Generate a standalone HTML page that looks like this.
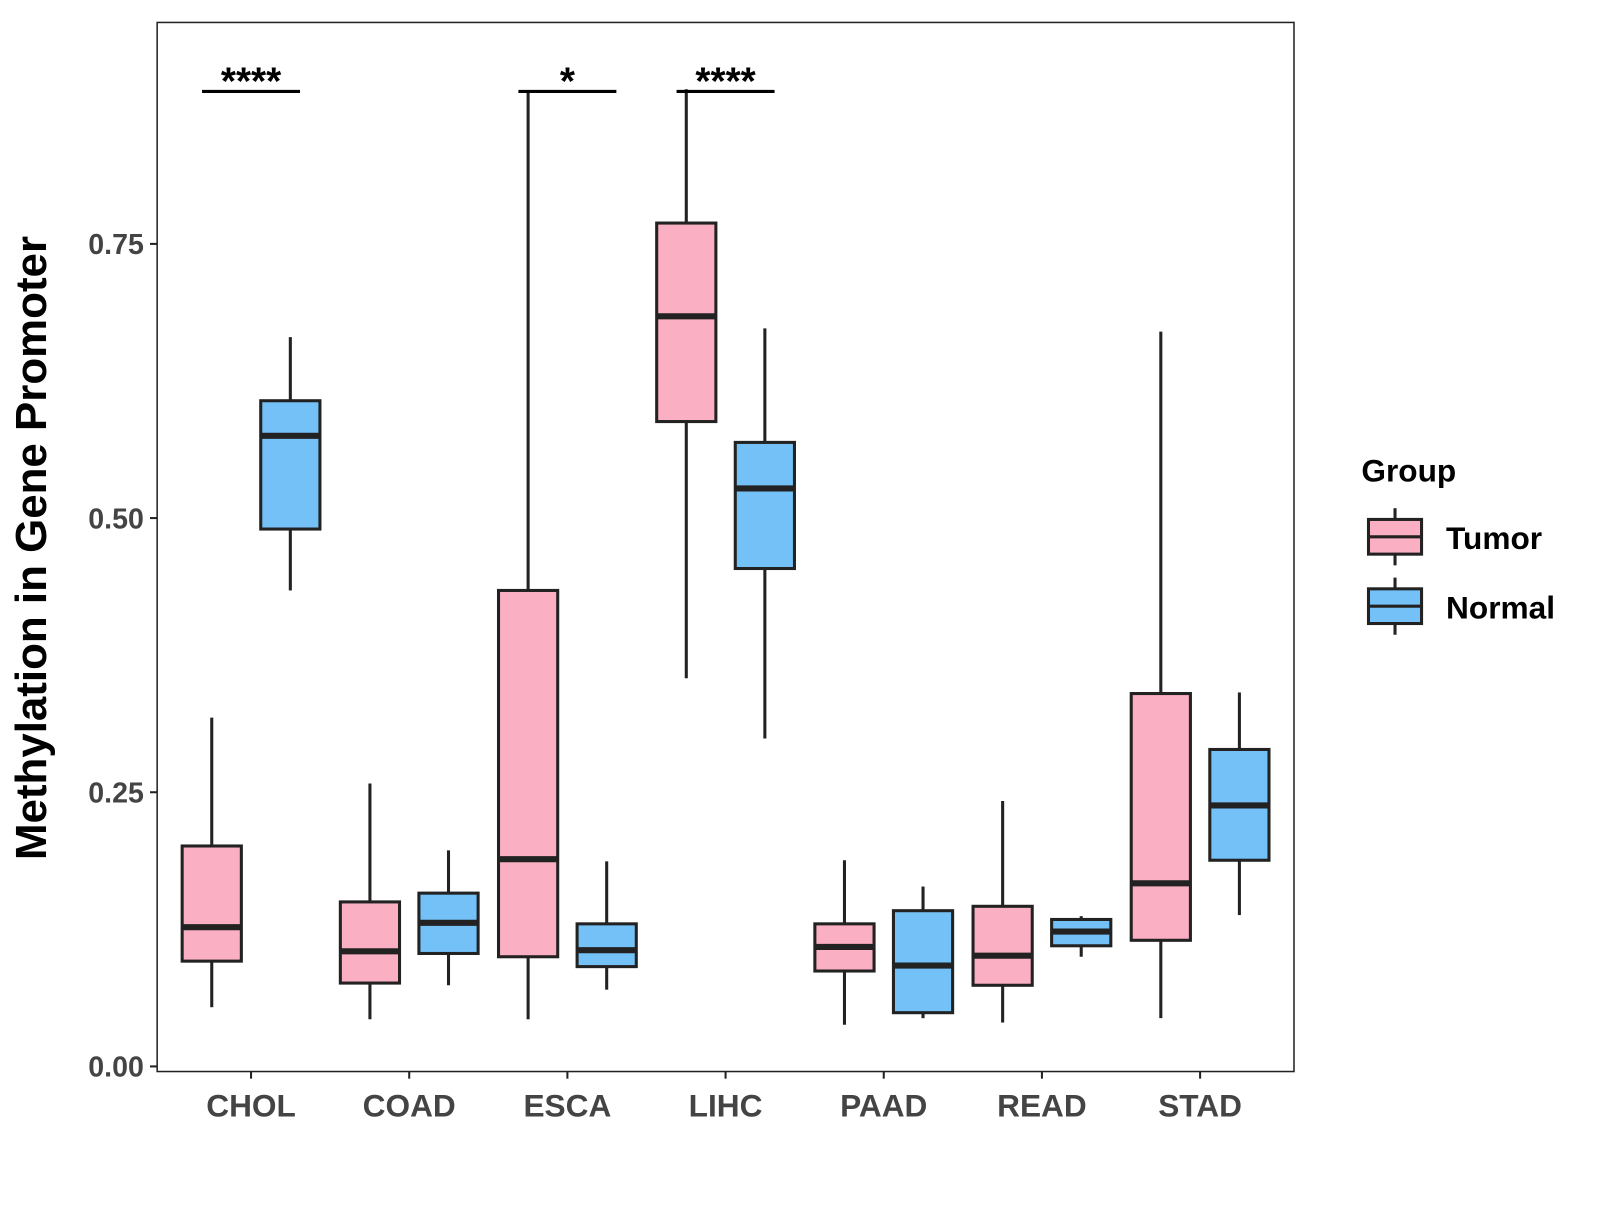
<!DOCTYPE html>
<html><head><meta charset="utf-8"><style>
body{margin:0;background:#fff}
svg text{font-family:"Liberation Sans",Arial,sans-serif;font-weight:bold}
</style></head><body>
<svg id="c" width="1600" height="1200" xmlns="http://www.w3.org/2000/svg">
<rect x="0" y="0" width="1600" height="1200" fill="#fff"/>
<g transform="scale(1.0205)">
<g id="plot"></g>
<rect x="154" y="22" width="1114" height="1028" fill="none" stroke="#222" stroke-width="1.5"/>
<text x="30" y="537" font-size="43" dy="15" text-anchor="middle" transform="rotate(-90 30 537)">Methylation in Gene Promoter</text>
<g>
<text x="1334" y="472" font-size="31">Group</text>
<g>
<line x1="1367" y1="498" x2="1367" y2="554" stroke="#222" stroke-width="3"/>
<rect x="1341" y="509" width="52" height="34" fill="#FBAFC2" stroke="#222" stroke-width="3"/>
<line x1="1341" y1="526" x2="1393" y2="526" stroke="#222" stroke-width="3"/>
<text x="1417" y="538" font-size="31">Tumor</text></g>
<g>
<line x1="1367" y1="566" x2="1367" y2="622" stroke="#222" stroke-width="3"/>
<rect x="1341" y="577" width="52" height="34" fill="#74C1F8" stroke="#222" stroke-width="3"/>
<line x1="1341" y1="594" x2="1393" y2="594" stroke="#222" stroke-width="3"/>
<text x="1417" y="606" font-size="31">Normal</text></g>
</g>
</g>
</svg>
<script>
const categories=["CHOL","COAD","ESCA","LIHC","PAAD","READ","STAD"];
const tumorStats=[[0.054,0.096,0.127,0.201,0.318],[0.043,0.076,0.105,0.150,0.258],[0.043,0.100,0.189,0.434,0.889],[0.354,0.588,0.684,0.769,0.891],[0.038,0.087,0.109,0.130,0.188],[0.040,0.074,0.101,0.146,0.242],[0.044,0.115,0.167,0.340,0.670]];
const normalStats=[[0.434,0.490,0.575,0.607,0.665],[0.074,0.103,0.131,0.158,0.197],[0.070,0.091,0.106,0.130,0.187],[0.299,0.454,0.527,0.569,0.673],[0.044,0.049,0.092,0.142,0.164],[0.100,0.110,0.123,0.134,0.137],[0.138,0.188,0.238,0.289,0.341]];
const yTicks=[0,0.25,0.5,0.75];
const yTickLabels=["0.00","0.25","0.50","0.75"];
const sigCats=["CHOL","ESCA","LIHC"];
const sigLabels=["****","*","****"];
const sigY=0.889;
const NS="http://www.w3.org/2000/svg";
const g=document.getElementById('plot');
const y=v=>1045-v*1074.67;
const x=i=>246+i*155;
function mk(t,a,p){const e=document.createElementNS(NS,t);for(const k in a)e.setAttribute(k,a[k]);(p||g).appendChild(e);return e;}
yTicks.forEach((t,i)=>{
 const l=mk('line',{x1:147,x2:154,y1:y(t),y2:y(t),stroke:'#222','stroke-width':2});
 
 
 const tx=mk('text',{x:141,y:y(t)+10,'font-size':28,'text-anchor':'end',fill:'#444'});tx.textContent=yTickLabels[i];
 
 
});
categories.forEach((c,i)=>{
 mk('line',{x1:x(i),x2:x(i),y1:1050,y2:1057,stroke:'#222','stroke-width':2});
 const tx=mk('text',{x:x(i),y:1094,'font-size':31,'text-anchor':'middle',fill:'#444'});tx.textContent=c;
 
 
 [[tumorStats[i],-38.5,'#FBAFC2','tumor'],[normalStats[i],38.5,'#74C1F8','normal']].forEach(([s,off,col,nm])=>{
  const cx=x(i)+off,w=58;
  const bg=mk('g',{});
  
  
  mk('line',{x1:cx,x2:cx,y1:y(s[0]),y2:y(s[1]),stroke:'#222','stroke-width':3},bg);
  mk('line',{x1:cx,x2:cx,y1:y(s[3]),y2:y(s[4]),stroke:'#222','stroke-width':3},bg);
  mk('rect',{x:cx-w/2,y:y(s[3]),width:w,height:y(s[1])-y(s[3]),fill:col,stroke:'#222','stroke-width':3},bg);
  mk('line',{x1:cx-w/2,x2:cx+w/2,y1:y(s[2]),y2:y(s[2]),stroke:'#222','stroke-width':6},bg);
 });
});
sigCats.forEach((c,j)=>{
 const i=categories.indexOf(c);
 const l=mk('line',{x1:x(i)-48,x2:x(i)+48,y1:y(sigY),y2:y(sigY),stroke:'#000','stroke-width':3});
 
 
 const t=mk('text',{x:x(i),y:y(sigY)+3,'font-size':38,'text-anchor':'middle'});t.textContent=sigLabels[j];
 
 
});
</script>
</body></html>
